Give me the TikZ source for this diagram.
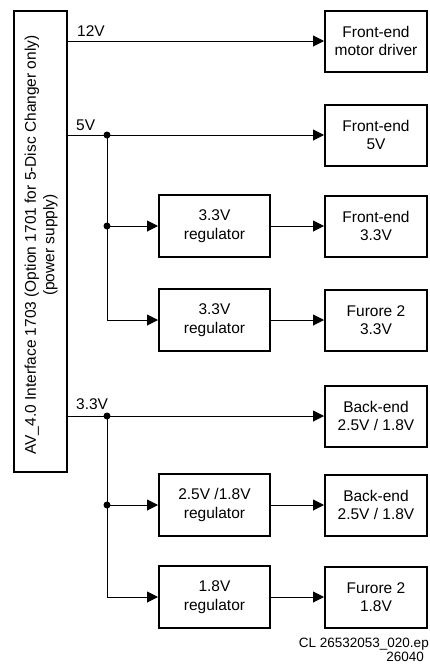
\documentclass[tikz,border=0pt]{standalone}
\usepackage{fontspec}
\setmainfont{Liberation Sans}
\usetikzlibrary{arrows.meta}
\begin{document}
\begin{tikzpicture}[x=1pt,y=-1pt,
  every node/.style={font=\fontsize{15.5}{18.5}\selectfont},
  blk/.style={draw,line width=2pt,minimum width=102pt,minimum height=61pt,align=center,inner sep=0pt},
  reg/.style={draw,line width=2pt,minimum width=111pt,minimum height=62pt,align=center,inner sep=0pt},
  wire/.style={line width=1pt},
  arr/.style={wire,-{Triangle[length=11pt,width=11pt]}},
  dot/.style={fill,circle,inner sep=0pt,minimum size=7pt},
  lbl/.style={anchor=south west,inner sep=0pt}]
\useasboundingbox (0,0) rectangle (429,664);
% left supply box
\node[draw,line width=2pt,minimum width=53pt,minimum height=461pt,inner sep=0pt] (psu) at (40.5,241.5) {};
\node[rotate=90,align=center] (psutxt) at (41,245) {AV\_4.0 Interface 1703 (Option 1701 for 5-Disc Changer only)\\(power supply)};
% right blocks
\node[blk] (fe12) at (376,41) {Front-end\\motor driver};
\node[blk] (fe5) at (376,135) {Front-end\\5V};
\node[blk] (fe33) at (376,226) {Front-end\\3.3V};
\node[blk] (fu33) at (376,320) {Furore 2\\3.3V};
\node[blk] (be1) at (376,416) {Back-end\\2.5V / 1.8V};
\node[blk] (be2) at (376,505) {Back-end\\2.5V / 1.8V};
\node[blk] (fu18) at (376,597) {Furore 2\\1.8V};
% regulators
\node[reg] (r1) at (214.5,226) {3.3V\\regulator};
\node[reg] (r2) at (214.5,320) {3.3V\\regulator};
\node[reg] (r3) at (214.5,505) {2.5V /1.8V\\regulator};
\node[reg] (r4) at (214.5,597) {1.8V\\regulator};
% junctions
\node[dot] (j5) at (107,135) {};
\node[dot] (j5b) at (107,226) {};
\coordinate (c5) at (107,320);
\node[dot] (j3) at (107,416) {};
\node[dot] (j3b) at (107,505) {};
\coordinate (c3) at (107,597);
% wires
\draw[arr] (psu.east |- fe12.west) -- (fe12.west);
\draw[arr] (psu.east |- fe5.west) -- (fe5.west);
\draw[arr] (psu.east |- be1.west) -- (be1.west);
\draw[wire] (j5.center) -- (c5);
\draw[wire] (j3.center) -- (c3);
\draw[arr] (j5b.center) -- (r1.west);
\draw[arr] (c5) -- (r2.west);
\draw[arr] (j3b.center) -- (r3.west);
\draw[arr] (c3) -- (r4.west);
\draw[arr] (r1.east) -- (fe33.west);
\draw[arr] (r2.east) -- (fu33.west);
\draw[arr] (r3.east) -- (be2.west);
\draw[arr] (r4.east) -- (fu18.west);
% labels
\node[lbl] (l12) at (77,37) {12V};
\node[lbl] (l5) at (76,131) {5V};
\node[lbl] (l33) at (76,410) {3.3V};
% caption
\node[anchor=base east,inner sep=0pt,font=\fontsize{13.5}{15}\selectfont] (cap1) at (429,647) {CL 26532053\_020.ep};
\node[anchor=base east,inner sep=0pt,font=\fontsize{13.5}{15}\selectfont] (cap2) at (424,661) {26040};
\end{tikzpicture}
\end{document}
